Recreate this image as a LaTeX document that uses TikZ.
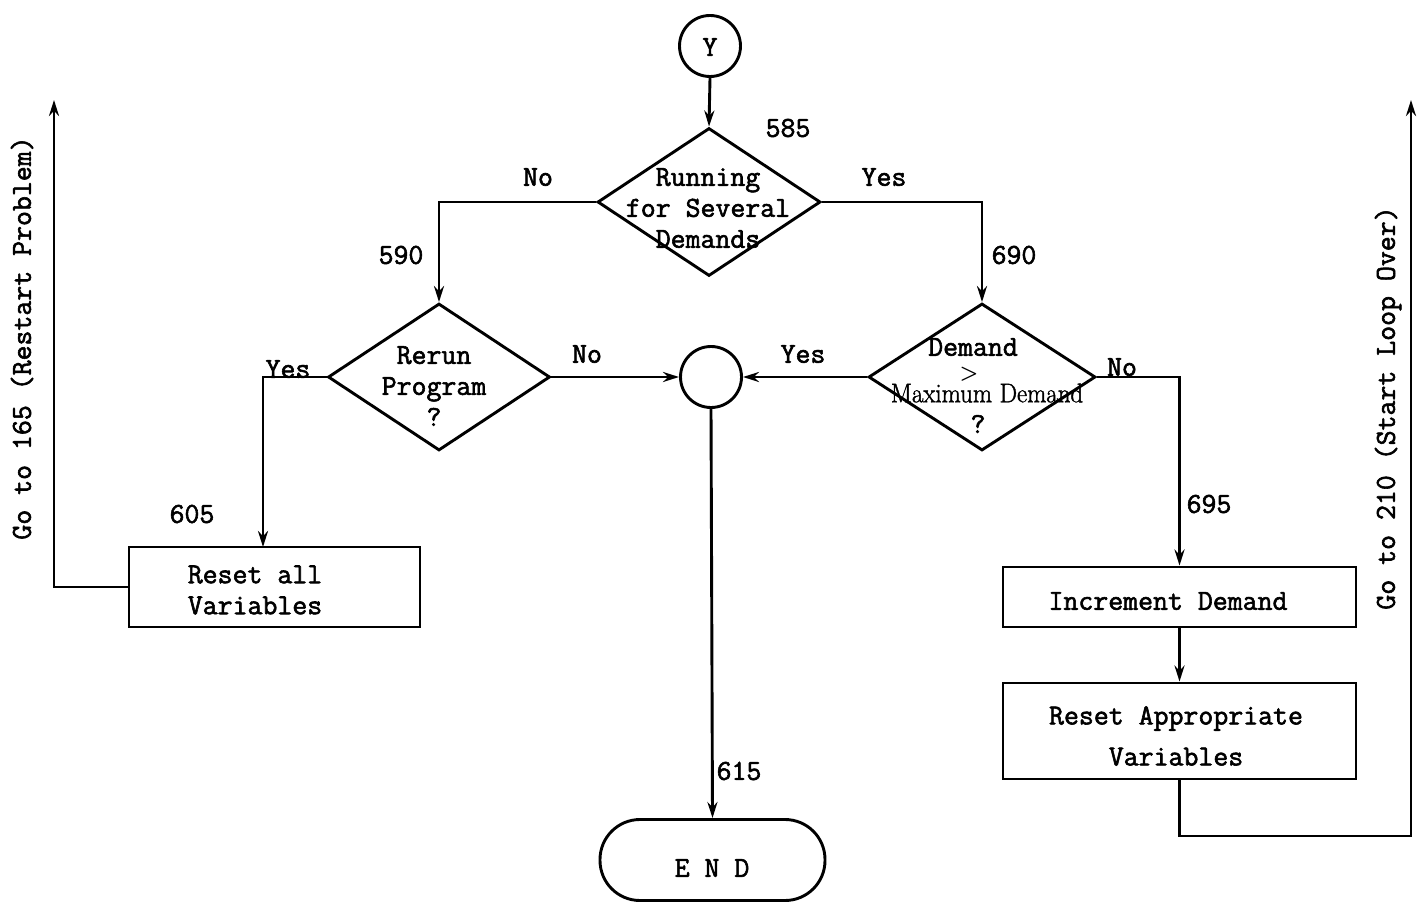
\documentclass[tikz,border=0pt]{standalone}
\usepackage{fontspec}
\setmonofont{Latin Modern Mono}[FakeBold=2]
\newfontfamily\mdfont{Latin Modern Roman}[FakeBold=1.5]
\usetikzlibrary{shapes.geometric,arrows.meta}
\begin{document}
\begin{tikzpicture}[x=1pt,y=-1pt,
  ln/.style={line width=2.9pt},
  arr/.style={ln,-{Stealth[length=16pt,width=10pt]}},
  dia/.style={draw,ln,diamond,inner sep=0pt,minimum width=223pt,minimum height=148pt},
  box/.style={draw,ln,rectangle,inner sep=0pt},
  circ/.style={draw,ln,circle,inner sep=0pt,minimum size=61pt},
  txt/.style={font=\fontsize{29}{31}\ttfamily,inner sep=0pt,align=center},
  rtxt/.style={font=\fontsize{27}{31}\mdfont,inner sep=0pt}]
\useasboundingbox (0,0) rectangle (1423,904);
% nodes
\node[circ] (yc) at (710,46) {};
\node[txt] (yt) at (710,47) {Y};
\node[dia] (d1) at (709,202) {};
\node[txt] (d1t) at (708,208) {Running\\for Several\\Demands};
\node[dia,minimum width=222pt,minimum height=147pt] (d2) at (439,377) {};
\node[txt] (d2t) at (434,386) {Rerun\\Program\\?};
\node[dia,minimum width=227pt,minimum height=147pt] (d3) at (982,377) {};
\node[txt] (d3a) at (973,347) {Demand};
\node[font=\fontsize{21}{24}\bfseries\rmfamily,inner sep=0pt] (d3b) at (969,374) {>};
\node[rtxt] (d3c) at (987,393) {\scalebox{0.92}[1]{Maximum Demand}};
\node[txt] (d3d) at (978,424) {?};
\node[circ] (mc) at (711,377) {};
\node[box,minimum width=291pt,minimum height=80pt] (b1) at (274.5,587) {};
\node[txt,align=left] (b1t) at (255,590) {Reset all\\Variables};
\node[box,minimum width=353pt,minimum height=60pt] (b2) at (1179.5,597) {};
\node[txt] (b2t) at (1168,601) {Increment Demand};
\node[box,minimum width=353pt,minimum height=96pt] (b3) at (1179.5,731) {};
\node[txt,font=\fontsize{29}{41}\ttfamily] (b3t) at (1176,736) {Reset Appropriate\\Variables};
\node[draw,ln,rectangle,rounded corners=40pt,minimum width=225pt,minimum height=81pt,inner sep=0pt] (end) at (712.5,860) {};
\node[txt] (endt) at (712,868) {E N D};
% labels
\node[txt] (l585) at (788,128) {585};
\node[txt] (l590) at (401,255) {590};
\node[txt] (l690) at (1014,255) {690};
\node[txt] (l605) at (192,514) {605};
\node[txt] (l695) at (1209,504) {695};
\node[txt] (l615) at (739,771) {615};
\node[txt] (no1) at (538,177) {No};
\node[txt] (yes1) at (884,177) {Yes};
\node[txt] (yes2) at (288,369) {Yes};
\node[txt] (no2) at (587,354) {No};
\node[txt] (yes3) at (803,354) {Yes};
\node[txt] (no3) at (1122,367) {No};
\node[txt,rotate=90] (gl) at (22,338) {Go to 165 (Restart Problem)};
\node[txt,rotate=90] (gr) at (1388,408) {Go to 210 (Start Loop Over)};
% coordinates
\coordinate (b1in) at (263,547);
\coordinate (goL) at (54,100);
\coordinate (cornR) at (1411,836);
\coordinate (goR) at (1411,100);
% connectors
\draw[arr] (yc.south) -- (d1.north);
\draw[arr] (d1.west) -| (d2.north);
\draw[arr] (d1.east) -| (d3.north);
\draw[arr] (d2.east) -- (mc.west);
\draw[arr] (d3.west) -- (mc.east);
\draw[arr] (d2.west) -| (b1in);
\draw[arr] (b1.west) -| (goL);
\draw[arr] (d3.east) -| (b2.north);
\draw[arr] (b2.south) -- (b3.north);
\draw[arr] (b3.south) |- (cornR) -- (goR);
\draw[arr] (mc.south) -- (end.north);
\end{tikzpicture}
\end{document}
